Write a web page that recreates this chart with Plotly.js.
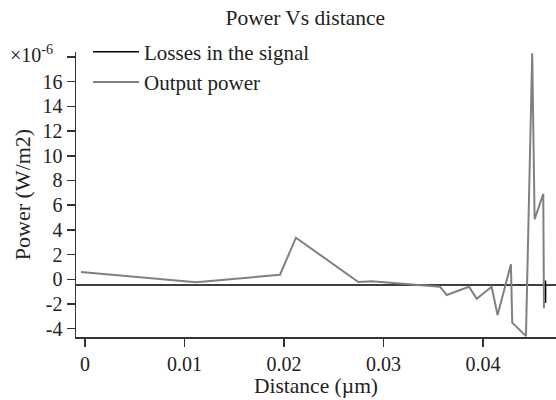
<!DOCTYPE html>
<html>
<head>
<meta charset="utf-8">
<script src="https://cdn.plot.ly/plotly-3.0.1.min.js"></script>
<style>html,body{margin:0;padding:0;background:#fff;}#chart{width:556px;height:400px;}</style>
</head>
<body>
<div id="chart"></div>
<script>
// Distance (µm) and power values (×1e-6 W/m2)
var outputX = [-0.0004, 0.01116, 0.0196, 0.0212, 0.02747, 0.0288, 0.03568, 0.03635, 0.0386, 0.03937, 0.04087, 0.04147, 0.04281, 0.04294, 0.04432, 0.04495, 0.04519, 0.04606, 0.04613];
var outputY = [0.59, -0.24, 0.37, 3.37, -0.22, -0.16, -0.6, -1.27, -0.6, -1.57, -0.6, -2.89, 1.21, -3.51, -4.6, 18.3, 4.86, 6.91, -2.35];
var lossesX = [-0.0009, 0.04627, 0.04628, 0.04629, 0.0463, 0.048];
var lossesY = [-0.46, -0.46, -0.1, -1.9, -0.46, -0.46];
var yTickVals = [-4, -2, 0, 2, 4, 6, 8, 10, 12, 14, 16, 18];
var yTickText = ['-4', '-2', '0', '2', '4', '6', '8', '10', '12', '14', '16', ''];
var xTickVals = [0, 0.01, 0.02, 0.03, 0.04];
var xTickText = ['0', '0.01', '0.02', '0.03', '0.04'];

var font = 'Liberation Serif, Times New Roman, serif';
var traces = [
  {x: lossesX, y: lossesY, mode: 'lines', name: 'Losses in the signal', line: {color: '#000000', width: 1.5}},
  {x: outputX, y: outputY, mode: 'lines', name: 'Output power', line: {color: '#808080', width: 2}}
];
var layout = {
  width: 556, height: 400,
  margin: {l: 76, r: 0, t: 52, b: 63},
  paper_bgcolor: '#fff', plot_bgcolor: '#fff',
  font: {family: font, size: 20, color: '#222'},
  title: {text: 'Power Vs distance', x: 0.549, xanchor: 'center', y: 0.957, yanchor: 'middle', font: {family: font, size: 21.5, color: '#222'}},
  showlegend: true,
  legend: {x: 0.025, y: 1.072, xanchor: 'left', yanchor: 'top', itemwidth: 46, bgcolor: 'rgba(0,0,0,0)', font: {family: font, size: 21, color: '#222'}, tracegroupgap: 0},
  xaxis: {
    range: [-0.000905, 0.04734],
    tickvals: xTickVals, ticktext: xTickText,
    ticks: 'outside', ticklen: 8, tickwidth: 1.5, tickcolor: '#333',
    showline: true, linecolor: '#333', linewidth: 1.5,
    showgrid: false, zeroline: false,
    tickfont: {family: font, size: 20, color: '#222'},
    automargin: true,
    title: {text: 'Distance (µm)', font: {family: font, size: 21.5, color: '#222'}, standoff: 2}
  },
  yaxis: {
    range: [-4.67, 18.4],
    tickvals: yTickVals, ticktext: yTickText,
    ticks: 'outside', ticklen: 8, tickwidth: 1.5, tickcolor: '#333',
    showline: true, linecolor: '#333', linewidth: 1.5,
    showgrid: false, zeroline: false,
    tickfont: {family: font, size: 20, color: '#222'},
    title: {text: 'Power (W/m2)', font: {family: font, size: 22, color: '#222'}, standoff: 6}
  },
  annotations: [
    {xref: 'paper', yref: 'y', x: 0, y: 18, xanchor: 'right', yanchor: 'middle', xshift: -21, yshift: 3, showarrow: false,
     text: '×10<sup>-6</sup>', font: {family: font, size: 20, color: '#222'}}
  ]
};
Plotly.newPlot('chart', traces, layout, {staticPlot: true, displayModeBar: false});
</script>
</body>
</html>
